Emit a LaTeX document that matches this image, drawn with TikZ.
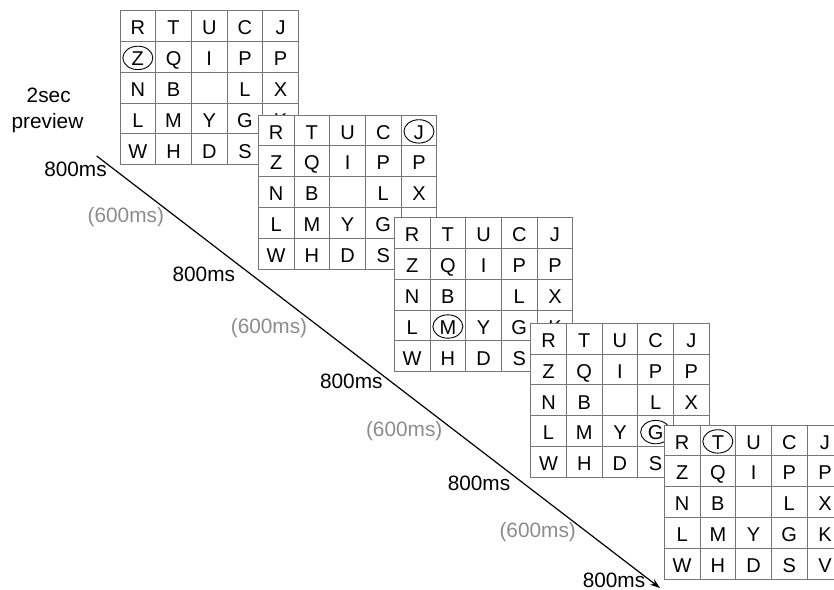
\documentclass[tikz,border=0pt]{standalone}
\usepackage{fontspec}
\setmainfont{Liberation Sans}
\usetikzlibrary{arrows.meta}
\definecolor{gridgray}{RGB}{118,118,118}
\definecolor{lblgray}{RGB}{140,140,140}
\tikzset{
  cellbox/.style={draw=gridgray, line width=1pt, fill=white,
    minimum width=35.7pt, minimum height=30.8pt, inner sep=0pt,
    text height=17.4pt, text depth=0pt,
    font=\fontsize{20}{22}\selectfont, anchor=center},
  ring/.style={draw=black, line width=0.9pt},
  timelbl/.style={font=\fontsize{20.8}{24}\selectfont, anchor=base, inner sep=0pt},
  pauselbl/.style={timelbl, text=lblgray},
  timeline/.style={draw=black, line width=1.2pt, -{Stealth[length=10pt,width=7pt]}},
}
\begin{document}
\begin{tikzpicture}[x=1pt,y=-1pt]
\useasboundingbox (0,0) rectangle (834,589);
\clip (0,0) rectangle (834,589);
% grids
\foreach \g/\ox/\oy/\cr/\cc in {1/120/10.7/2/1, 2/258.3/115/1/5, 3/394.3/217.7/4/2, 4/530.7/323.3/4/4, 5/664.3/425/1/2} {
  \foreach \r/\letters in {1/{R,T,U,C,J},2/{Z,Q,I,P,P},3/{N,B,~,L,X},4/{L,M,Y,G,K},5/{W,H,D,S,V}} {
    \foreach \t [count=\c] in \letters {
      \node[cellbox] (g\g-\r-\c) at ({\ox+(\c-0.5)*35.7}, {\oy+(\r-0.5)*30.8}) {\t};
    }
  }
  \draw[ring] ([yshift=-1pt]g\g-\cr-\cc.center) ellipse [x radius=15pt, y radius=11.7pt];
}
% labels
\node[timelbl] (l2sec) at (48.7,102.7) {2sec};
\node[timelbl] (lprev) at (47.5,128.3) {preview};
\node[timelbl] (t1) at (75.5,176) {800ms};
\node[pauselbl] (p1) at (125.8,222.7) {(600ms)};
\node[timelbl] (t2) at (203.8,281.7) {800ms};
\node[pauselbl] (p2) at (269,333.3) {(600ms)};
\node[timelbl] (t3) at (351.3,388.3) {800ms};
\node[pauselbl] (p3) at (404.2,436.7) {(600ms)};
\node[timelbl] (t4) at (479,490) {800ms};
\node[pauselbl] (p4) at (537.7,537.7) {(600ms)};
\node[timelbl] (t5) at (614,587.6) {800ms};
% time axis
\coordinate (tstart) at (96.7,156);
\coordinate (tend) at (660,588);
\draw[timeline] (tstart) -- (tend);
\end{tikzpicture}
\end{document}
